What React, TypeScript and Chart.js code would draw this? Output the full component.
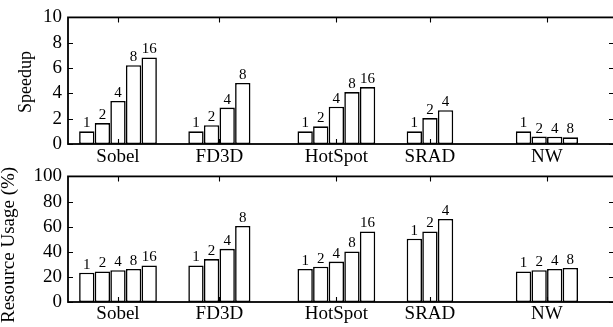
import { useEffect, useRef } from "react";
import { Chart, registerables } from "chart.js";

Chart.register(...registerables);

// ---- data ----
const categories = ["Sobel", "FD3D", "HotSpot", "SRAD", "NW"];
const threadCounts = ["1", "2", "4", "8", "16"];

const speedupSobel = [1.0, 1.65, 3.4, 6.22, 6.84];
const speedupFD3D = [1.0, 1.48, 2.88, 4.82];
const speedupHotSpot = [1.0, 1.4, 2.95, 4.1, 4.5];
const speedupSRAD = [1.0, 2.05, 2.67];
const speedupNW = [1.0, 0.59, 0.58, 0.53];

const usageSobel = [23.3, 24.3, 25.3, 26.3, 29.1];
const usageFD3D = [29.1, 34.2, 42.3, 60.5];
const usageHotSpot = [26.3, 28.1, 32.2, 40.3, 56.2];
const usageSRAD = [50.4, 56.2, 66.1];
const usageNW = [24.3, 25.3, 26.3, 27.1];

const speedupTicks = [0, 2, 4, 6, 8, 10];
const usageTicks = [0, 20, 40, 60, 80, 100];

const SLOTS_PER_CLUSTER = 7; // 5 bar slots + 2 gap slots

const FONT = "'Liberation Serif', 'Times New Roman', serif";

type Cfg = {
  groups: number[][];
  yTicks: number[];
  title: string;
  titleSize: number;
  titleX: number;
  titleY: number;
  padTop: number;
  xHeight: number;
  labelPad: number;
};

function makeChart(canvas: HTMLCanvasElement, cfg: Cfg) {
  const { groups, yTicks } = cfg;
  const centers = groups.map((g, c) => c * SLOTS_PER_CLUSTER + g.length / 2);
  const datasets = threadCounts.map((lab, s) => ({
    label: lab,
    data: groups.flatMap((g, c) =>
      s < g.length ? [{ x: c * SLOTS_PER_CLUSTER + s + 0.5, y: g[s] }] : []
    ),
    backgroundColor: "#ffffff",
    borderColor: "#000000",
    borderWidth: 1.6,
    borderSkipped: false as const,
    grouped: false,
    barPercentage: 0.985,
    categoryPercentage: 1,
  }));

  const framePlugin = {
    id: "frame",
    afterDatasetsDraw(chart: any) {
      const ctx = chart.ctx;
      ctx.save();
      ctx.fillStyle = "#000";
      ctx.font = `15px ${FONT}`;
      ctx.textAlign = "center";
      ctx.textBaseline = "alphabetic";
      chart.data.datasets.forEach((ds: any, i: number) => {
        const meta = chart.getDatasetMeta(i);
        meta.data.forEach((el: any) => {
          ctx.fillText(ds.label, el.x, el.y - 4);
        });
      });
      ctx.restore();
    },
    afterDraw(chart: any) {
      const { ctx, chartArea: a, scales } = chart;
      ctx.save();
      ctx.strokeStyle = "#000";
      ctx.lineWidth = 1.8;
      ctx.strokeRect(a.left, a.top, a.right - a.left, a.bottom - a.top);
      ctx.lineWidth = 1.1;
      ctx.beginPath();
      scales.y.ticks.forEach((t: any) => {
        const py = Math.round(scales.y.getPixelForValue(t.value)) + 0.5;
        ctx.moveTo(a.left, py);
        ctx.lineTo(a.left + 5, py);
        ctx.moveTo(a.right - 5, py);
        ctx.lineTo(a.right, py);
      });
      scales.x.ticks.forEach((t: any) => {
        const px = Math.round(scales.x.getPixelForValue(t.value)) + 0.5;
        ctx.moveTo(px, a.bottom);
        ctx.lineTo(px, a.bottom - 5);
        ctx.moveTo(px, a.top);
        ctx.lineTo(px, a.top + 5);
      });
      ctx.stroke();
      // axis title
      ctx.translate(cfg.titleX, cfg.titleY);
      ctx.rotate(-Math.PI / 2);
      ctx.fillStyle = "#000";
      ctx.font = `${cfg.titleSize}px ${FONT}`;
      ctx.textAlign = "left";
      ctx.textBaseline = "alphabetic";
      ctx.fillText(cfg.title, 0, 0);
      ctx.restore();
    },
  };

  return new Chart(canvas, {
    type: "bar",
    data: { datasets: datasets as any },
    plugins: [framePlugin],
    options: {
      responsive: false,
      animation: false,
      events: [],
      layout: { padding: { top: cfg.padTop, right: 2, left: 0, bottom: 0 } },
      plugins: { legend: { display: false }, tooltip: { enabled: false } },
      scales: {
        x: {
          type: "linear",
          offset: false,
          min: -0.705,
          max: 34.3,
          grid: { display: false, drawTicks: false },
          border: { display: false },
          afterBuildTicks: (axis: any) => {
            axis.ticks = centers.map((v) => ({ value: v }));
          },
          afterFit: (scale: any) => {
            scale.height = cfg.xHeight;
          },
          ticks: {
            autoSkip: false,
            maxRotation: 0,
            padding: cfg.labelPad,
            color: "#000",
            font: { family: FONT, size: 19 },
            callback: (_v: any, i: number) => categories[i],
          },
        },
        y: {
          type: "linear",
          min: yTicks[0],
          max: yTicks[yTicks.length - 1],
          grid: { display: false, drawTicks: false },
          border: { display: false },
          afterBuildTicks: (axis: any) => {
            axis.ticks = yTicks.map((v) => ({ value: v }));
          },
          afterFit: (scale: any) => {
            scale.width = 68;
          },
          ticks: {
            autoSkip: false,
            padding: 6,
            color: "#000",
            font: { family: FONT, size: 19 },
            callback: (v: any) => String(v),
          },
        },
      },
    },
  });
}

export default function App() {
  const topRef = useRef<HTMLCanvasElement>(null);
  const botRef = useRef<HTMLCanvasElement>(null);

  useEffect(() => {
    const top = makeChart(topRef.current!, {
      groups: [speedupSobel, speedupFD3D, speedupHotSpot, speedupSRAD, speedupNW],
      yTicks: speedupTicks,
      title: "Speedup",
      titleSize: 18,
      titleX: 31,
      titleY: 113,
      padTop: 13,
      xHeight: 26,
      labelPad: 2,
    });
    const bot = makeChart(botRef.current!, {
      groups: [usageSobel, usageFD3D, usageHotSpot, usageSRAD, usageNW],
      yTicks: usageTicks,
      title: "Resource Usage (%)",
      titleSize: 19,
      titleX: 14,
      titleY: 164,
      padTop: 12,
      xHeight: 25,
      labelPad: 1,
    });
    return () => {
      top.destroy();
      bot.destroy();
    };
  }, []);

  return (
    <div
      style={{
        position: "absolute",
        left: 0,
        top: 0,
        width: 613,
        height: 327,
        overflow: "hidden",
        background: "#fff",
      }}
    >
      <canvas
        ref={topRef}
        width={616}
        height={170}
        style={{ position: "absolute", left: 0, top: 0 }}
      />
      <canvas
        ref={botRef}
        width={616}
        height={168}
        style={{ position: "absolute", left: 0, top: 159 }}
      />
    </div>
  );
}
